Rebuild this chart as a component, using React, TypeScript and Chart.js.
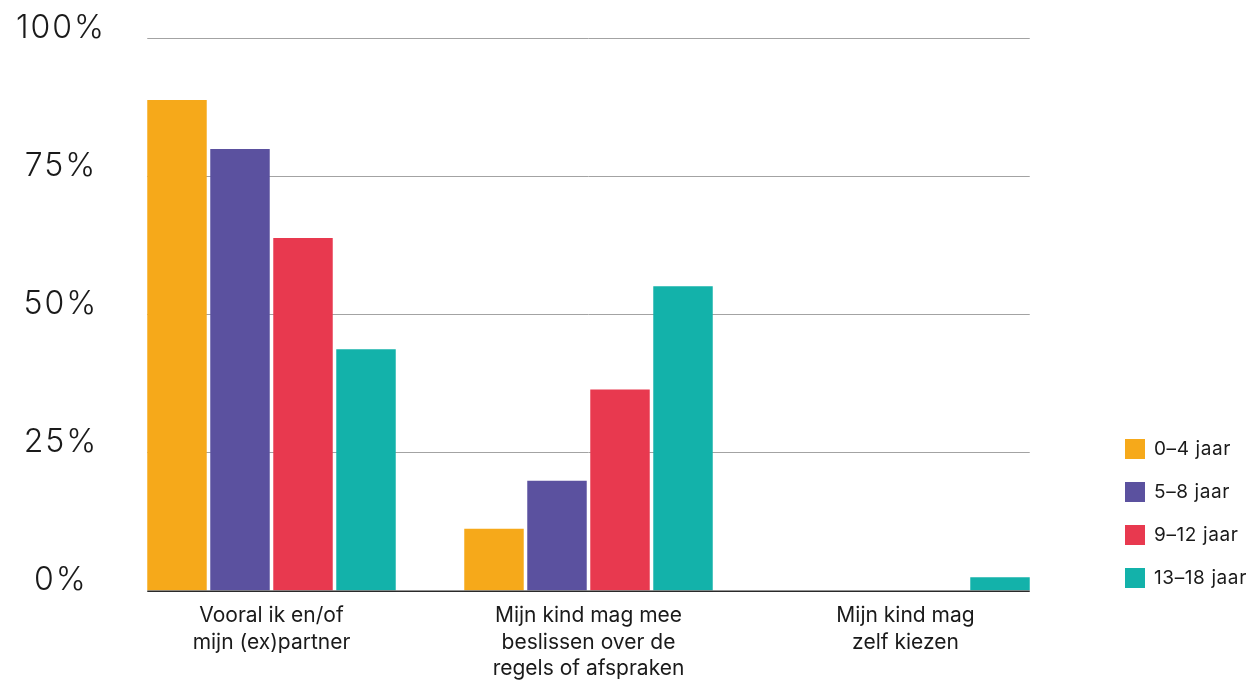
import React, { useEffect, useRef } from "react";
import { Chart, registerables } from "chart.js";

Chart.register(...registerables);

const categories: string[][] = [
  ["Vooral ik en/of", "mijn (ex)partner"],
  ["Mijn kind mag mee", "beslissen over de", "regels of afspraken"],
  ["Mijn kind mag", "zelf kiezen"],
];
const seriesNames = ["0–4 jaar", "5–8 jaar", "9–12 jaar", "13–18 jaar"];
const age0to4 = [88.8, 11.2, 0];
const age5to8 = [79.9, 19.9, 0];
const age9to12 = [63.8, 36.4, 0];
const age13to18 = [43.7, 55.1, 2.4];
const yTickValues = [0, 25, 50, 75, 100];
const seriesColors = ["#F6A91A", "#5B519F", "#E8394F", "#13B2AA"];

const FONT = "Inter, 'Noto Sans', sans-serif";

function barExtent(chart: any) {
  const first = chart.getDatasetMeta(0).data[0] as any;
  const lastMeta = chart.getDatasetMeta(chart.data.datasets.length - 1);
  const last = lastMeta.data[lastMeta.data.length - 1] as any;
  return [first.x - first.width / 2, last.x + last.width / 2];
}

const gridPlugin = {
  id: "customGrid",
  beforeDraw(chart: any) {
    (chart.ctx as any).letterSpacing = "0px";
  },
  beforeDatasetsDraw(chart: any) {
    const { ctx } = chart;
    const y = chart.scales.y;
    const [x0, x1] = barExtent(chart);
    ctx.save();
    ctx.strokeStyle = "#a3a3a3";
    ctx.lineWidth = 1;
    yTickValues.forEach((v) => {
      if (v === 0) return;
      const py = Math.round(y.getPixelForValue(v)) + 0.5;
      ctx.beginPath();
      ctx.moveTo(x0, py);
      ctx.lineTo(x1, py);
      ctx.stroke();
    });
    ctx.restore();
  },
  afterDatasetsDraw(chart: any) {
    const { ctx } = chart;
    const y = chart.scales.y;
    const [x0, x1] = barExtent(chart);
    ctx.save();
    ctx.strokeStyle = "#2a2a2a";
    ctx.lineWidth = 1.5;
    const py = y.getPixelForValue(0) + 0.75;
    ctx.beginPath();
    ctx.moveTo(x0, py);
    ctx.lineTo(x1, py);
    ctx.stroke();
    ctx.restore();
    // wider spacing for the y-axis labels, which are drawn after the datasets
    (ctx as any).letterSpacing = "2px";
  },
};

export default function App() {
  const canvasRef = useRef<HTMLCanvasElement | null>(null);

  useEffect(() => {
    if (!canvasRef.current) return;
    const datasetsData = [age0to4, age5to8, age9to12, age13to18];
    const chart = new Chart(canvasRef.current, {
      type: "bar",
      data: {
        labels: categories,
        datasets: datasetsData.map((d, i) => ({
          label: seriesNames[i],
          data: d,
          backgroundColor: seriesColors[i],
          borderWidth: 0,
          categoryPercentage: 0.795,
          barPercentage: 0.944,
        })),
      },
      plugins: [gridPlugin],
      options: {
        animation: false,
        responsive: false,
        maintainAspectRatio: false,
        layout: { padding: { left: 0, right: 188, top: 38, bottom: -11 } },
        plugins: {
          legend: { display: false },
          tooltip: { enabled: false },
        },
        scales: {
          x: {
            grid: { display: false, drawTicks: false },
            border: { display: false },
            ticks: {
              autoSkip: false,
              maxRotation: 0,
              padding: 12,
              color: "#1a1a1a",
              font: { family: FONT, size: 21, lineHeight: 1.26 },
            },
          },
          y: {
            min: 0,
            max: 100,
            grid: { display: false, drawTicks: false },
            border: { display: false },
            afterBuildTicks: (scale: any) => {
              scale.ticks = yTickValues.map((v) => ({ value: v }));
            },
            afterFit: (scale: any) => {
              scale.width = 113;
            },
            ticks: {
              z: 1,
              callback: (v: any) => v + "%",
              crossAlign: "center",
              labelOffset: -10,
              padding: 11,
              color: "#1a1a1a",
              font: { family: FONT, size: 32, weight: 300 },
            },
          },
        },
      },
    });
    return () => chart.destroy();
  }, []);

  return (
    <div
      style={{
        position: "fixed",
        left: 0,
        top: 0,
        width: 1252,
        height: 683,
        background: "#ffffff",
      }}
    >
      <canvas ref={canvasRef} width={1252} height={683} style={{ display: "block" }} />
      <div
        style={{
          position: "absolute",
          left: 1125,
          top: 439,
          fontFamily: FONT,
          fontSize: 19,
          letterSpacing: "0.6px",
          color: "#1a1a1a",
        }}
      >
        {seriesNames.map((name, i) => (
          <div
            key={name}
            style={{ display: "flex", alignItems: "center", height: 20, marginBottom: 23 }}
          >
            <span
              style={{
                display: "inline-block",
                width: 20,
                height: 20,
                background: seriesColors[i],
                marginRight: 9,
              }}
            />
            <span style={{ lineHeight: "20px", whiteSpace: "nowrap" }}>{name}</span>
          </div>
        ))}
      </div>
    </div>
  );
}
